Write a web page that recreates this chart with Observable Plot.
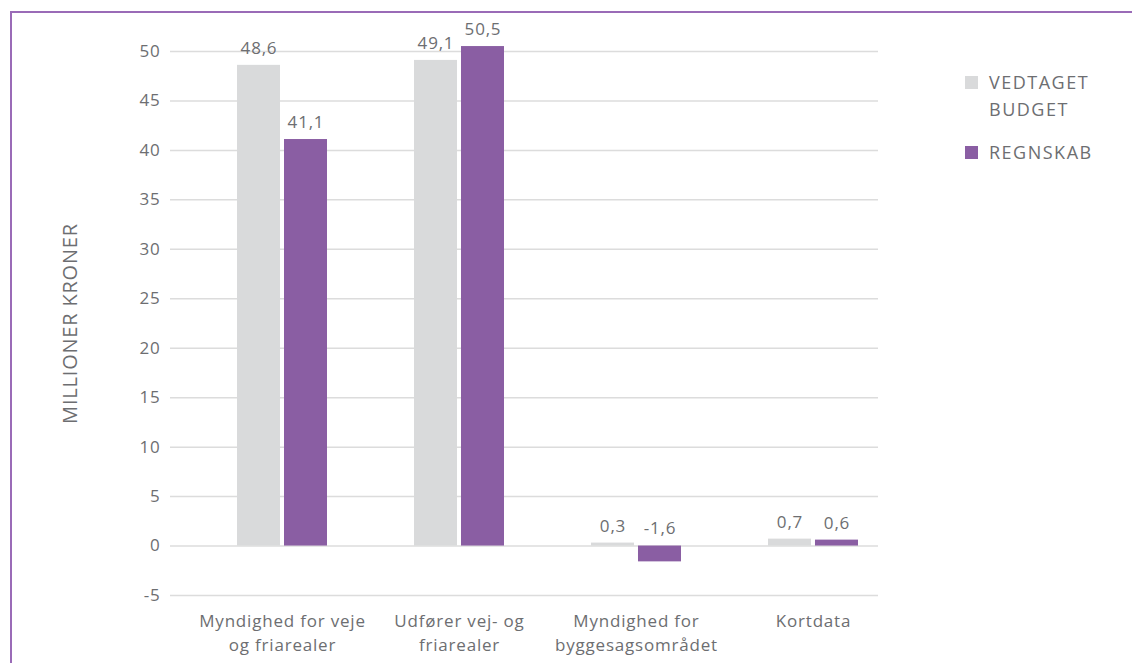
<!DOCTYPE html>
<html><head><meta charset="utf-8">
<script src="https://cdn.jsdelivr.net/npm/d3@7"></script>
<script src="https://cdn.jsdelivr.net/npm/@observablehq/plot@0.6"></script>
<style>
body{margin:0;background:#fff;font-family:"Open Sans", sans-serif;}
#wrap{position:relative;width:1132px;height:663px;overflow:hidden;}
#frame{position:absolute;left:10px;top:11px;width:1200px;height:700px;border-left:2px solid #9a6bb7;border-top:2px solid #9a6bb7;box-sizing:border-box;}
#legend{position:absolute;left:965px;top:69px;color:#6d6e71;font-size:18px;line-height:27px;letter-spacing:1.5px;}
.item{display:flex;align-items:flex-start;margin-bottom:16px;}
.sw{width:13px;height:13px;margin-top:7px;margin-right:11px;flex:none;}
.lab{width:120px;}
#chart{position:absolute;left:0;top:0;}
</style></head>
<body>
<div id="wrap"><div id="frame"></div><div id="chart"></div><div id="legend"></div></div>
<script>
const categories = ["Myndighed for veje\nog friarealer", "Udfører vej- og\nfriarealer", "Myndighed for\nbyggesagsområdet", "Kortdata"];
const series = ["VEDTAGET BUDGET", "REGNSKAB"];
const budget = [48.6, 49.1, 0.3, 0.7];
const regnskab = [41.1, 50.5, -1.6, 0.6];
const yTicks = [-5, 0, 5, 10, 15, 20, 25, 30, 35, 40, 45, 50];
const colors = ["#d9dadb", "#8a5ea3"];
const textColor = "#6d6e71";

const budgetRows = categories.map((c, i) => ({cat: c, series: series[0], value: budget[i]}));
const regnskabRows = categories.map((c, i) => ({cat: c, series: series[1], value: regnskab[i]}));
const fmt = v => v.toFixed(1).replace(".", ",");

const chart = Plot.plot({
  width: 1132, height: 663,
  marginLeft: 170, marginRight: 254, marginTop: 51, marginBottom: 68,
  style: {fontFamily: "'Open Sans', sans-serif", fontSize: "17px", color: textColor, background: "transparent", letterSpacing: "0.8px"},
  x: {domain: categories, paddingInner: 0.4915, paddingOuter: 0.2458, align: 0.77, round: false},
  y: {domain: [-5, 50]},
  marks: [
    Plot.ruleY(yTicks, {stroke: "#dcdcdc", strokeWidth: 1.5}),
    Plot.barY(budgetRows, {x: "cat", y: "value", fill: colors[0], insetRight: 47}),
    Plot.barY(regnskabRows, {x: "cat", y: "value", fill: colors[1], insetLeft: 47}),
    Plot.text(budgetRows, {x: "cat", y: d => Math.max(d.value, 0), text: d => fmt(d.value), dx: -23.5, dy: -17, fill: textColor, fontSize: 17}),
    Plot.text(regnskabRows, {x: "cat", y: d => Math.max(d.value, 0), text: d => fmt(d.value), dx: 23.5, dy: -17, fill: textColor, fontSize: 17}),
    Plot.axisY(yTicks, {tickSize: 0, tickPadding: 10, tickFormat: d => String(d), label: null, fill: textColor}),
    Plot.axisY({label: "MILLIONER KRONER", labelArrow: false, labelAnchor: "center", labelOffset: 108, ticks: [], tickSize: 0, fill: textColor, fontSize: 20, style: {letterSpacing: "1.7px"}}),
    Plot.axisX({tickSize: 0, tickPadding: 15, label: null, lineHeight: 1.38, fill: textColor})
  ]
});
document.getElementById("chart").appendChild(chart);

const legend = document.getElementById("legend");
series.forEach((s, i) => {
  const it = document.createElement("div");
  it.className = "item";
  const sw = document.createElement("div");
  sw.className = "sw"; sw.style.background = colors[i];
  const lab = document.createElement("div");
  lab.className = "lab"; lab.textContent = s;
  it.appendChild(sw); it.appendChild(lab);
  legend.appendChild(it);
});
</script>
</body></html>
